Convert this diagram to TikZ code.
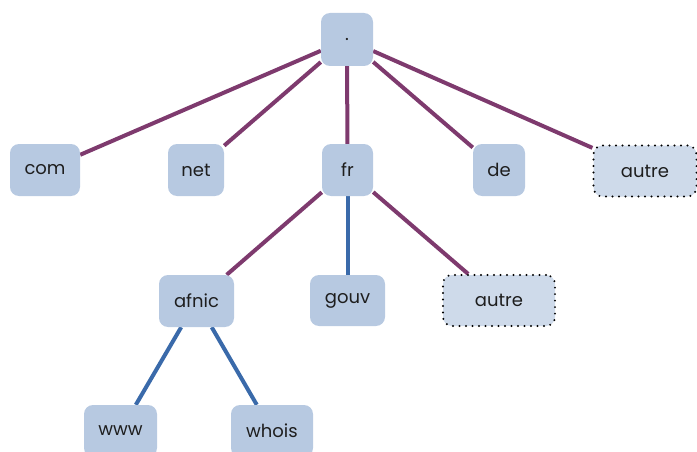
\documentclass[tikz,border=0pt]{standalone}
\usepackage{fontspec}
\setmainfont{Poppins}
\usetikzlibrary{backgrounds}
\definecolor{nodefill}{RGB}{183,201,225}
\definecolor{lightfill}{RGB}{206,218,234}
\definecolor{purpleline}{RGB}{126,58,110}
\definecolor{blueline}{RGB}{58,106,170}
\definecolor{txt}{RGB}{30,30,30}
\tikzset{
  dnode/.style={fill=nodefill, rounded corners=9pt, minimum height=52pt, inner sep=0pt,
    text=txt, font=\fontsize{18}{21}\selectfont},
  dotnode/.style={dnode, fill=lightfill, draw=black, line width=2.2pt, line cap=round,
    dash pattern=on 0pt off 6.5pt},
  plink/.style={draw=purpleline, line width=4pt},
  blink/.style={draw=blueline, line width=4pt}
}
\begin{document}
\begin{tikzpicture}[x=1pt,y=-1pt]
\clip (0,0) rectangle (697,452);
\useasboundingbox (0,0) rectangle (697,452);
\node[dnode, minimum width=52pt, minimum height=53pt] (root) at (347,39.5) {.};
\node[dnode, minimum width=70pt] (com) at (45,170) {com};
\node[dnode, minimum width=56pt] (net) at (196,170) {net};
\node[dnode, minimum width=51pt] (fr) at (347.5,170) {fr};
\node[dnode, minimum width=52pt] (de) at (499,170) {de};
\node[dotnode, minimum width=103pt, minimum height=51pt] (autre1) at (645,171) {autre};
\node[dnode, minimum width=75pt] (afnic) at (196.5,301) {afnic};
\node[dnode, minimum width=75pt, minimum height=51pt] (gouv) at (347.5,300.5) {gouv};
\node[dotnode, minimum width=112pt, minimum height=51pt] (autre2) at (499,300.5) {autre};
\node[dnode, minimum width=73pt] (www) at (120.5,431) {www};
\node[dnode, minimum width=82pt] (whois) at (272,431) {whois};
\begin{scope}[on background layer]
\draw[plink] (root) -- (com);
\draw[plink] (root) -- (net);
\draw[plink] (root) -- (fr);
\draw[plink] (root) -- (de);
\draw[plink] (root) -- (autre1);
\draw[plink] (fr) -- (afnic);
\draw[blink] (fr) -- (gouv);
\draw[plink] (fr) -- (autre2);
\draw[blink] (afnic) -- (www);
\draw[blink] (afnic) -- (whois);
\end{scope}
\end{tikzpicture}
\end{document}
